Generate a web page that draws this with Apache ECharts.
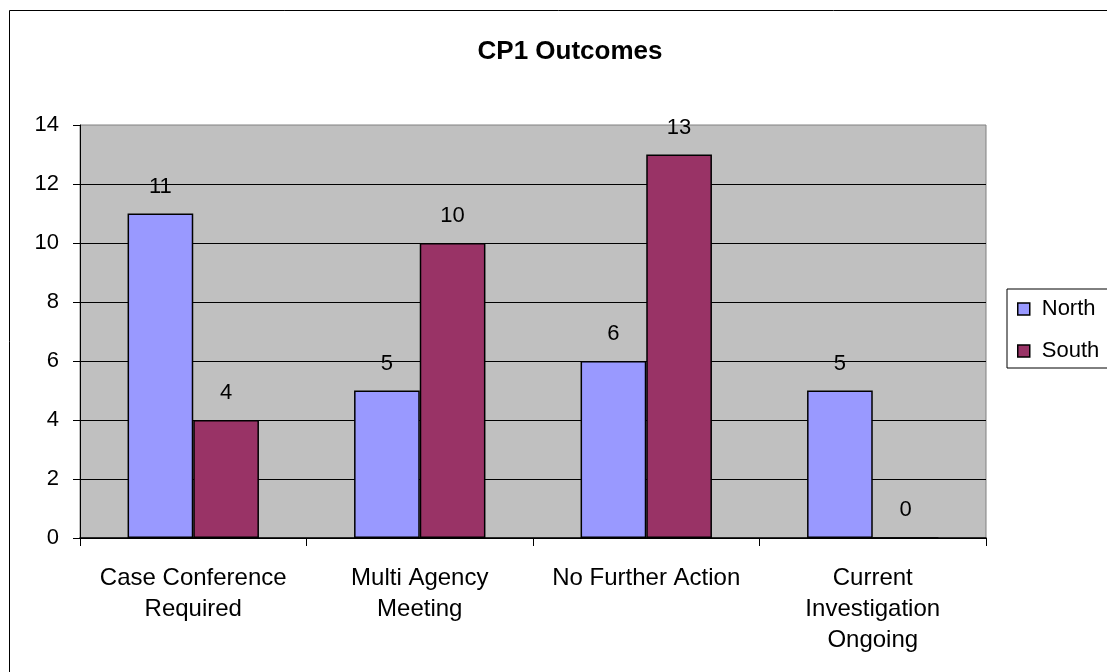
<!DOCTYPE html>
<html>
<head>
<meta charset="utf-8">
<script src="https://cdn.jsdelivr.net/npm/echarts@6/dist/echarts.min.js"></script>
<style>
  html, body { margin: 0; padding: 0; background: #fff; }
  #chart { width: 1107px; height: 672px; }
</style>
</head>
<body>
<div id="chart"></div>
<script>
// chart data
const categories = ['Case Conference\nRequired', 'Multi Agency\nMeeting', 'No Further Action', 'Current\nInvestigation\nOngoing']
const northValues = [11, 5, 6, 5]
const southValues = [4, 10, 13, 0]

const font = 'Liberation Sans, Arial, sans-serif'
const chart = echarts.init(document.getElementById('chart'))

const labelStyle = {
  show: true,
  position: 'top',
  distance: 16,
  fontFamily: font,
  fontSize: 22,
  color: '#000',
}

const option = {
  backgroundColor: '#fff',
  animation: false,
  title: {
    text: 'CP1 Outcomes',
    left: 565,
    top: 34,
    textAlign: 'center',
    textStyle: { fontFamily: font, fontSize: 26, fontWeight: 'bold', color: '#000' },
  },
  graphic: [
    {
      type: 'rect',
      shape: { x: 9.5, y: 10.5, width: 1200, height: 700 },
      style: { fill: 'none', stroke: '#000', lineWidth: 1 },
      silent: true,
      z: -1,
    },
  ],
  legend: {
    orient: 'vertical',
    left: 1007,
    top: 289,
    padding: [9, 12, 6, 10],
    itemWidth: 12,
    itemHeight: 12,
    itemGap: 20,
    icon: 'rect',
    backgroundColor: '#fff',
    borderColor: '#000',
    borderWidth: 1,
    textStyle: { fontFamily: font, fontSize: 22, color: '#000', padding: [0, 0, 0, 7] },
    itemStyle: { borderColor: '#000', borderWidth: 1.5 },
  },
  grid: {
    left: 80,
    right: 121,
    top: 125,
    bottom: 134,
    show: true,
    backgroundColor: '#C0C0C0',
    borderColor: '#808080',
    borderWidth: 1,
  },
  xAxis: {
    type: 'category',
    data: categories,
    axisLine: { lineStyle: { color: '#000', width: 1.5 } },
    axisTick: { show: true, length: 8, lineStyle: { color: '#000' } },
    axisLabel: {
      interval: 0,
      margin: 25,
      fontFamily: font,
      fontSize: 24,
      lineHeight: 31,
      color: '#000',
    },
  },
  yAxis: {
    type: 'value',
    min: 0,
    max: 14,
    interval: 2,
    axisLine: { show: true, lineStyle: { color: '#000', width: 1 } },
    axisTick: { show: true, length: 7, lineStyle: { color: '#000' } },
    axisLabel: { margin: 21, fontFamily: font, fontSize: 22, color: '#000' },
    splitLine: { show: true, showMaxLine: false, lineStyle: { color: '#000', width: 1 } },
  },
  series: [
    {
      name: 'North',
      type: 'bar',
      data: northValues,
      barGap: '0%',
      barCategoryGap: '42%',
      itemStyle: { color: '#9999FF', borderColor: '#000', borderWidth: 1.5 },
      label: labelStyle,
    },
    {
      name: 'South',
      type: 'bar',
      data: southValues,
      itemStyle: { color: '#993366', borderColor: '#000', borderWidth: 1.5 },
      label: labelStyle,
    },
  ],
}

chart.setOption(option)
</script>
</body>
</html>
